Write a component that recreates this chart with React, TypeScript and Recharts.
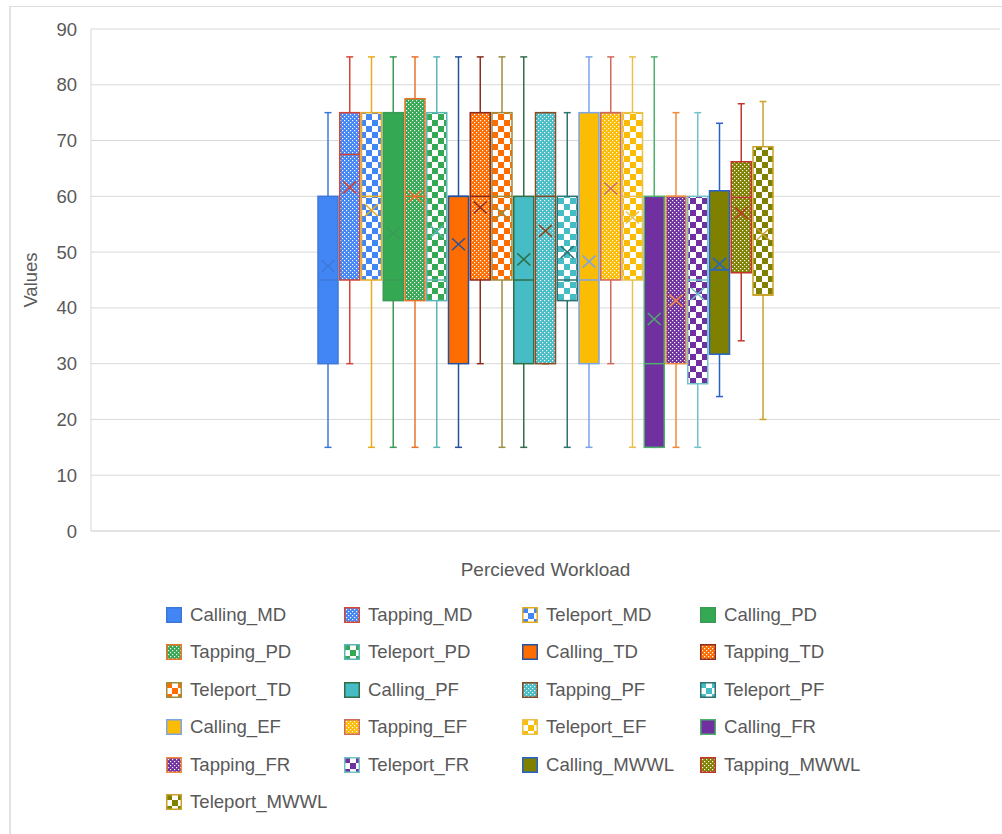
import React from 'react';
import { ComposedChart, Bar, XAxis, YAxis, CartesianGrid, Legend } from 'recharts';

const categories = ['Percieved Workload'];
const seriesNames = [
  'Calling_MD', 'Tapping_MD', 'Teleport_MD',
  'Calling_PD', 'Tapping_PD', 'Teleport_PD',
  'Calling_TD', 'Tapping_TD', 'Teleport_TD',
  'Calling_PF', 'Tapping_PF', 'Teleport_PF',
  'Calling_EF', 'Tapping_EF', 'Teleport_EF',
  'Calling_FR', 'Tapping_FR', 'Teleport_FR',
  'Calling_MWWL', 'Tapping_MWWL', 'Teleport_MWWL',
];
const minValues = [15, 30, 15, 15, 15, 15, 15, 30, 15, 15, 30, 15, 15, 30, 15, 15, 15, 15, 24.1, 34.1, 20];
const q1Values = [30, 45, 45, 41.3, 41.3, 41.3, 30, 45, 45, 30, 30, 41.3, 30, 45, 45, 15, 30, 26.4, 31.7, 46.3, 42.3];
const medianValues = [45, 67.5, 60, 45, 60, 45, 60, 60, 60, 45, 60, 45, 45, 75, 60, 30, 60, 45, 46.8, 59.8, 42.3];
const q3Values = [60, 75, 75, 75, 77.5, 75, 60, 75, 75, 60, 75, 60, 75, 75, 75, 60, 60, 60, 61, 66.2, 68.9];
const maxValues = [75, 85, 85, 85, 85, 85, 85, 85, 85, 85, 75, 75, 85, 85, 85, 85, 75, 75, 73.1, 76.6, 77];
const meanValues = [47.5, 61.6, 57.5, 53.4, 60, 53.7, 51.4, 58, 57, 48.7, 53.8, 50, 48.3, 61.4, 56.2, 38, 41.3, 42.5, 47.9, 57, 53.2];
const yTicks = [0, 10, 20, 30, 40, 50, 60, 70, 80, 90];

const groupFills = ['#4285F4', '#34A853', '#FF6D01', '#46BDC6', '#FBBC04', '#7030A0', '#808000'];
const borderColors = [
  '#3c78d8', '#d64535', '#e6ac1c',
  '#3b9a57', '#e8742a', '#5bb6b8',
  '#25529e', '#8c2d1f', '#9d8d3f',
  '#2f6e47', '#8b4a20', '#2f7272',
  '#7ca4e8', '#d06a5c', '#e8c04a',
  '#4caf6a', '#f08a3c', '#70c4c8',
  '#2563c8', '#c2352a', '#c9a22a',
];

const FONT = '"Liberation Sans", Arial, sans-serif';
const TEXT = '#595959';
const GRID = '#d9d9d9';

const data = categories.map((c) => {
  const row: any = { name: c };
  seriesNames.forEach((n, i) => {
    row[n] = [minValues[i], maxValues[i]];
  });
  return row;
});

const fillFor = (i: number) => {
  const g = Math.floor(i / 3);
  const t = i % 3;
  if (t === 0) return groupFills[g];
  if (t === 1) return `url(#tap-${g})`;
  return `url(#tel-${g})`;
};

const BoxShape = (props: any) => {
  const { x, y, width, height, si } = props;
  if (height == null || width == null) return null;
  const max = maxValues[si];
  const min = minValues[si];
  const k = height / (max - min);
  const py = (v: number) => y + (max - v) * k;
  const cx = x + width / 2;
  const col = borderColors[si];
  const capW = 3.5;
  const yMax = py(max), yQ3 = py(q3Values[si]), yMed = py(medianValues[si]), yQ1 = py(q1Values[si]), yMin = py(min);
  const yMean = py(meanValues[si]);
  const xs = 6.5, ys = 6;
  return (
    <g>
      <line x1={cx} x2={cx} y1={yMax} y2={yQ3} stroke={col} strokeWidth={1.5} />
      <line x1={cx - capW} x2={cx + capW} y1={yMax} y2={yMax} stroke={col} strokeWidth={1.5} />
      <line x1={cx} x2={cx} y1={yQ1} y2={yMin} stroke={col} strokeWidth={1.5} />
      <line x1={cx - capW} x2={cx + capW} y1={yMin} y2={yMin} stroke={col} strokeWidth={1.5} />
      <rect x={x} y={yQ3} width={width} height={yQ1 - yQ3} fill={fillFor(si)} stroke={col} strokeWidth={1.5} />
      <line x1={x} x2={x + width} y1={yMed} y2={yMed} stroke={col} strokeWidth={1.5} />
      <line x1={cx - xs} x2={cx + xs} y1={yMean - ys} y2={yMean + ys} stroke={col} strokeWidth={1.5} />
      <line x1={cx - xs} x2={cx + xs} y1={yMean + ys} y2={yMean - ys} stroke={col} strokeWidth={1.5} />
    </g>
  );
};

const renderLegend = () => (
  <div
    style={{
      display: 'grid',
      gridTemplateColumns: 'repeat(4, 178px)',
      gridAutoRows: '37.5px',
      fontFamily: FONT,
      fontSize: 18.6,
      color: TEXT,
    }}
  >
    {seriesNames.map((n, i) => (
      <div key={n} style={{ display: 'flex', alignItems: 'center', whiteSpace: 'nowrap' }}>
        <svg width={16} height={16} style={{ display: 'block' }}>
          <rect x={0.75} y={0.75} width={14.5} height={14.5} fill={fillFor(i)} stroke={borderColors[i]} strokeWidth={1.5} />
        </svg>
        <span style={{ marginLeft: 8 }}>{n}</span>
      </div>
    ))}
  </div>
);

export default function App() {
  return (
    <div style={{ position: 'absolute', left: 0, top: 0, width: 1002, height: 834, overflow: 'hidden', background: '#fff' }}>
      <div
        style={{
          position: 'absolute', left: 9, top: 6, width: 1100, height: 1000,
          borderLeft: '2px solid #e3e3e3', borderTop: '1px solid #dcdcdc',
        }}
      />
      <div style={{ position: 'absolute', left: 0, top: 0 }}>
        <ComposedChart
          width={1002}
          height={834}
          data={data}
          margin={{ top: 29, right: 2, left: 0, bottom: 243 }}
          barSize={20}
          barGap={1.75}
        >
          <defs>
            {groupFills.map((c, g) => (
              <pattern key={`tap-${g}`} id={`tap-${g}`} patternUnits="userSpaceOnUse" width={4} height={4}>
                <rect x={0} y={0} width={4} height={4} fill={c} />
                <rect x={0} y={0} width={1.2} height={1.2} fill="#fff" />
                <rect x={2} y={2} width={1.2} height={1.2} fill="#fff" />
              </pattern>
            ))}
            {groupFills.map((c, g) => (
              <pattern key={`tel-${g}`} id={`tel-${g}`} patternUnits="userSpaceOnUse" width={12} height={12}>
                <rect x={0} y={0} width={12} height={12} fill="#fff" />
                <rect x={0} y={0} width={6} height={6} fill={c} />
                <rect x={6} y={6} width={6} height={6} fill={c} />
              </pattern>
            ))}
          </defs>
          <CartesianGrid vertical={false} stroke={GRID} strokeWidth={1} />
          <XAxis
            dataKey="name"
            tick={false}
            tickLine={false}
            axisLine={{ stroke: GRID }}
            height={60}
            label={{ value: 'Percieved Workload', position: 'insideTop', offset: 32, fill: TEXT, fontSize: 19, fontFamily: FONT }}
          />
          <YAxis
            domain={[0, 90]}
            ticks={yTicks}
            width={91}
            tickSize={0}
            tickMargin={14}
            tickLine={false}
            axisLine={{ stroke: GRID }}
            tick={{ fill: TEXT, fontSize: 18.5, fontFamily: FONT }}
            label={{ value: 'Values', angle: -90, position: 'center', dx: -15, fill: TEXT, fontSize: 18.5, fontFamily: FONT }}
          />
          <Legend
            layout="horizontal"
            verticalAlign="middle"
            align="center"
            wrapperStyle={{ position: 'absolute', left: 166, top: 596, width: 760 }}
            content={renderLegend}
          />
          {seriesNames.map((n, i) => (
            <Bar
              key={n}
              dataKey={n}
              isAnimationActive={false}
              fill={groupFills[Math.floor(i / 3)]}
              shape={(p: any) => <BoxShape {...p} si={i} />}
            />
          ))}
        </ComposedChart>
      </div>
    </div>
  );
}
